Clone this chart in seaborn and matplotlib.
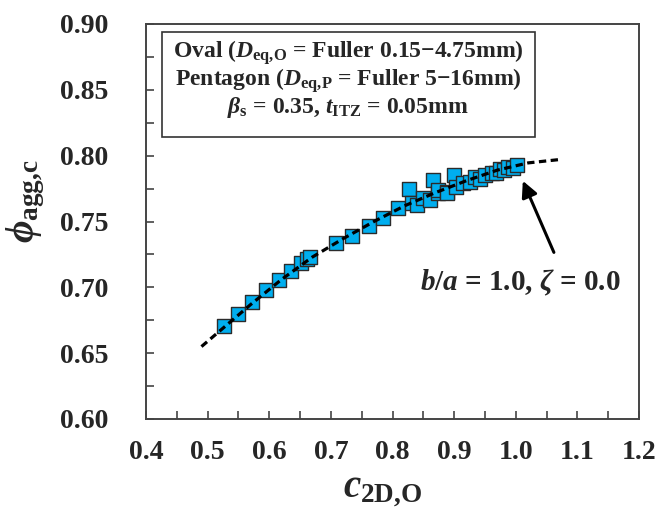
import numpy as np
import pandas as pd
import matplotlib
matplotlib.use('Agg')
import matplotlib.pyplot as plt
import matplotlib.patches as patches
import seaborn as sns

# Datos
curva_x = [0.49, 0.53, 0.57, 0.62, 0.67, 0.72, 0.77, 0.82, 0.87, 0.92, 0.97, 1.02, 1.07]
curva_y = [0.655, 0.671, 0.687, 0.706, 0.723, 0.737, 0.750, 0.762, 0.772, 0.781, 0.789, 0.7945, 0.797]

puntos_x = [0.527, 0.550, 0.572, 0.595, 0.616, 0.636, 0.651, 0.661, 0.666, 0.708,
            0.735, 0.762, 0.785, 0.809, 0.826, 0.832, 0.839, 0.850, 0.861, 0.865,
            0.874, 0.874, 0.888, 0.888, 0.899, 0.903, 0.915, 0.925, 0.934, 0.942,
            0.950, 0.961, 0.968, 0.974, 0.981, 0.988, 0.995, 1.0015]
puntos_y = [0.671, 0.6795, 0.689, 0.6977, 0.7054, 0.7127, 0.7183, 0.7215, 0.7233, 0.7334,
            0.7392, 0.7466, 0.7524, 0.760, 0.7745, 0.7638, 0.7625, 0.7676, 0.766, 0.7815,
            0.7714, 0.774, 0.7727, 0.7714, 0.7853, 0.7765, 0.779, 0.780, 0.784, 0.782,
            0.785, 0.7866, 0.787, 0.7896, 0.789, 0.7916, 0.791, 0.793]

ticks_x = [0.4, 0.5, 0.6, 0.7, 0.8, 0.9, 1.0, 1.1, 1.2]
ticks_y = [0.60, 0.65, 0.70, 0.75, 0.80, 0.85, 0.90]

sns.set_style('ticks')
plt.rcParams['font.family'] = ['Liberation Serif', 'DejaVu Serif']
plt.rcParams['font.weight'] = 'bold'
plt.rcParams['mathtext.fontset'] = 'custom'
plt.rcParams['mathtext.rm'] = 'Liberation Serif:bold'
plt.rcParams['mathtext.bf'] = 'Liberation Serif:bold'
plt.rcParams['mathtext.it'] = 'Liberation Serif:italic:bold'

W, H = 655, 514
fig = plt.figure(figsize=(W / 100, H / 100), dpi=100)
ax = fig.add_axes([146 / W, 1 - 419 / H, (639 - 146) / W, (419 - 24) / H])

df_puntos = pd.DataFrame({'x': puntos_x, 'y': puntos_y})
df_curva = pd.DataFrame({'x': curva_x, 'y': curva_y})

sns.scatterplot(data=df_puntos, x='x', y='y', ax=ax, marker='s', s=100,
                color='#00AEEF', edgecolor='#2b2b2b', linewidth=1.0, zorder=2)
sns.lineplot(data=df_curva, x='x', y='y', ax=ax, color='black', lw=2.3,
             linestyle=(0, (2.3, 1.4)), zorder=3)

ax.set_xlim(0.4, 1.2)
ax.set_ylim(0.60, 0.90)
ax.set_xticks(ticks_x)
ax.set_yticks(ticks_y)
ax.set_xticklabels([f'{v:.1f}' for v in ticks_x])
ax.set_yticklabels([f'{v:.2f}' for v in ticks_y])
ax.set_xticks(np.arange(0.45, 1.2, 0.1), minor=True)
ax.set_yticks(np.arange(0.625, 0.9, 0.05), minor=True)
ax.tick_params(which='both', direction='in', length=6, width=1.2, color='#444444')
ax.tick_params(axis='x', which='major', labelsize=20, pad=15)
ax.tick_params(axis='y', which='major', labelsize=20, pad=27)
for lab in ax.get_xticklabels() + ax.get_yticklabels():
    lab.set_fontweight('bold')
for sp in ax.spines.values():
    sp.set_visible(True)
    sp.set_color('#444444')
    sp.set_linewidth(1.4)

ax.set_xlabel(r'$c_{\mathrm{2D{,}O}}$', fontsize=28)
ax.set_ylabel(r'$\phi_{\mathrm{agg{,}c}}$', fontsize=28)
ax.xaxis.set_label_coords(0.48, -0.135)
ax.yaxis.set_label_coords(-0.20, 0.55)

# flecha y etiqueta
ax.annotate('', xy=(1.0097, 0.7828), xytext=(1.0637, 0.7246),
            arrowprops=dict(arrowstyle='-|>', lw=2.2, color='black', mutation_scale=24))
ax.text(1.008, 0.7033, r'$b/a$ = 1.0, $\zeta$ = 0.0', ha='center', va='center',
        fontsize=21, fontweight='bold')

# cuadro de texto
caja = patches.Rectangle((162 / W, 1 - 137 / H), (535 - 162) / W, (137 - 32) / H,
                         transform=fig.transFigure, fill=False, edgecolor='#333333', lw=1.2)
fig.patches.append(caja)
lineas = [r'Oval ($D_{\mathrm{eq{,}O}}$ = Fuller 0.15−4.75mm)',
          r'Pentagon ($D_{\mathrm{eq{,}P}}$ = Fuller 5−16mm)',
          r'$\beta_{\mathrm{s}}$ = 0.35, $t_{\mathrm{ITZ}}$ = 0.05mm']
for linea, yc in zip(lineas, [53, 81, 108]):
    fig.text(348 / W, 1 - yc / H, linea, ha='center', va='center', fontsize=17, fontweight='bold')

fig.savefig('out.png', dpi=100)
